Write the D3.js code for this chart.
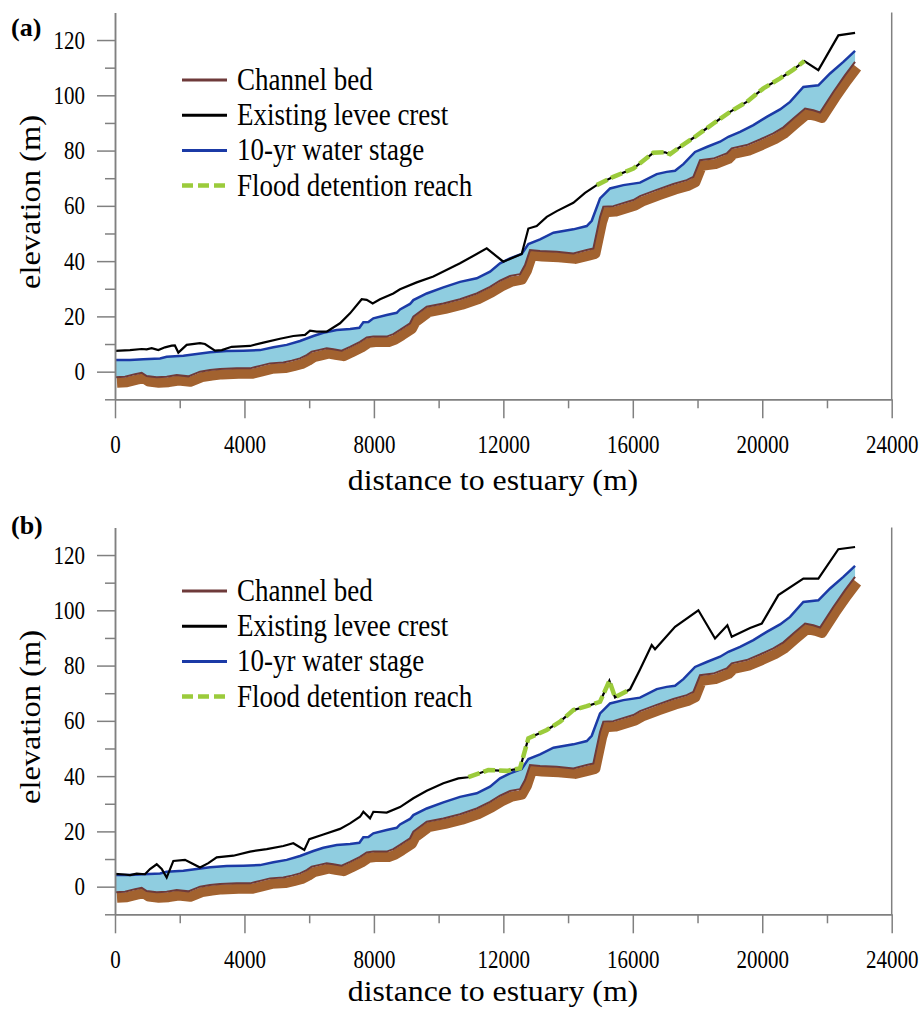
<!DOCTYPE html>
<html>
<head>
<meta charset="utf-8">
<script src="https://cdn.jsdelivr.net/npm/d3@7"></script>
<style>
  html, body { margin: 0; padding: 0; background: #fff; }
  svg { display: block; font-family: 'Liberation Serif', 'Times New Roman', serif; }
</style>
</head>
<body>
<svg id="fig" width="922" height="1009"></svg>
<script>
// Longitudinal profile of the river: distance to estuary (m) vs elevation (m)

// Channel bed
const bedDist = [0, 309, 618, 825, 979, 1288, 1597, 1906, 2265, 2627, 2936, 3245, 3760, 4172, 4481, 4790, 5200, 5460, 5717, 5924, 6078, 6284, 6541, 6750, 7004, 7262, 7571, 7778, 7983, 8395, 8600, 8807, 9116, 9219, 9632, 10146, 10661, 11177, 11588, 11897, 12206, 12515, 12670, 12824, 13134, 13650, 14163, 14577, 14781, 14988, 15090, 15399, 16017, 16223, 16739, 17252, 17667, 17871, 18077, 18490, 18902, 19057, 19521, 19932, 20344, 20653, 20962, 21323, 21580, 21786, 22197, 22559, 22868];
const bedElev = [-2.0, -1.8, -0.9, -0.4, -1.6, -2.0, -1.8, -1.2, -1.7, 0.0, 0.6, 1.0, 1.2, 1.2, 2.1, 3.0, 3.3, 4.0, 4.8, 6.0, 7.2, 7.8, 8.5, 8.1, 7.6, 9.0, 10.8, 12.4, 12.7, 12.7, 13.6, 15.1, 17.5, 19.9, 23.5, 24.7, 26.2, 28.3, 30.7, 32.9, 34.6, 35.3, 38.6, 44.0, 43.7, 43.4, 42.8, 44.0, 44.6, 56.0, 59.7, 59.9, 62.1, 63.5, 65.8, 67.9, 69.3, 70.5, 76.5, 77.1, 79.0, 80.8, 82.0, 84.0, 86.2, 88.4, 91.6, 95.2, 94.6, 93.8, 101.2, 107.3, 112.1];

// 10-yr water stage
const stageDist = [0, 464, 876, 1391, 1597, 2112, 2524, 2936, 3452, 3967, 4481, 4893, 5306, 5717, 6129, 6438, 6851, 7263, 7551, 7674, 7830, 7983, 8395, 8704, 8807, 9116, 9219, 9632, 10146, 10661, 11177, 11588, 11897, 12206, 12567, 12773, 13134, 13547, 14163, 14577, 14731, 14988, 15297, 15709, 16223, 16739, 17048, 17305, 17562, 17923, 18284, 18696, 18953, 19314, 19726, 20138, 20550, 20859, 21270, 21734, 22095, 22506, 22868];
const stageElev = [4.2, 4.2, 4.5, 4.8, 5.4, 5.8, 6.4, 7.0, 7.5, 7.6, 7.8, 8.8, 9.7, 11.1, 12.9, 14.1, 15.1, 15.4, 15.9, 17.9, 18.0, 19.3, 20.5, 21.3, 22.5, 24.5, 25.9, 28.3, 30.5, 32.5, 33.8, 36.2, 39.2, 41.0, 42.6, 46.2, 47.9, 50.3, 51.5, 52.7, 54.6, 62.7, 66.3, 67.5, 68.4, 71.5, 72.3, 72.7, 75.1, 79.5, 81.3, 83.2, 85.0, 86.8, 89.2, 92.2, 94.9, 97.6, 103.0, 103.6, 107.9, 112.1, 116.1];

// Existing levee crest, case (a)
const leveeADist = [0, 464, 825, 979, 1134, 1339, 1545, 1752, 1850, 1957, 2215, 2627, 2780, 3090, 3300, 3606, 4172, 4584, 5099, 5510, 5871, 6026, 6233, 6541, 6953, 7262, 7623, 7778, 7963, 8189, 8600, 8807, 9322, 9837, 10661, 11486, 11999, 12567, 12773, 13031, 13341, 13650, 14163, 14524, 14885, 15399, 16017, 16635, 16996, 17151, 17460, 17923, 18490, 19005, 19521, 20034, 20550, 20962, 21301, 21734, 22352, 22868];
const leveeAElev = [7.5, 7.8, 8.2, 8.1, 8.5, 7.8, 8.8, 9.4, 9.5, 6.9, 9.7, 10.3, 10.0, 7.6, 7.8, 9.0, 9.3, 10.5, 11.9, 12.9, 13.3, 14.8, 14.5, 14.5, 17.5, 21.1, 26.2, 26.0, 24.7, 26.2, 28.3, 29.8, 32.3, 34.4, 39.2, 44.6, 39.8, 42.6, 51.8, 52.7, 56.0, 58.1, 61.1, 64.7, 67.5, 70.5, 73.5, 79.2, 79.4, 78.7, 81.3, 85.0, 89.8, 94.0, 97.6, 102.5, 106.1, 109.3, 112.4, 109.1, 121.7, 122.6];

// Existing levee crest, case (b)
const leveeBDist = [0, 300, 464, 670, 927, 1082, 1288, 1443, 1597, 1803, 2163, 2370, 2627, 2884, 3143, 3657, 4172, 4688, 5201, 5510, 5850, 6004, 6438, 6953, 7262, 7571, 7674, 7880, 7983, 8395, 8807, 9219, 9632, 10146, 10609, 10918, 11536, 12104, 12515, 12773, 12979, 13341, 13752, 14163, 14577, 14988, 15276, 15451, 15915, 16223, 16584, 16687, 17305, 18026, 18541, 18922, 19057, 19623, 19985, 20498, 21270, 21734, 22352, 22868];
const leveeBElev = [4.6, 4.4, 4.2, 4.7, 4.5, 6.4, 8.1, 6.4, 3.3, 9.3, 9.7, 8.5, 6.9, 8.5, 10.6, 11.2, 12.7, 13.6, 14.7, 15.7, 13.3, 17.2, 18.9, 20.9, 22.9, 25.3, 27.1, 24.7, 27.1, 26.8, 28.8, 32.0, 34.7, 37.4, 39.2, 39.6, 42.2, 41.9, 42.8, 53.7, 54.8, 56.7, 59.7, 63.9, 65.3, 66.9, 74.5, 68.5, 71.4, 78.6, 87.4, 85.9, 94.0, 100.0, 89.8, 94.6, 90.4, 93.6, 95.2, 105.5, 111.5, 111.5, 122.1, 122.9];

// Flood detention reaches (start, end distance in m)
const detentionA = [14885, 21301];
const detentionB = [10918, 15915];

// Axis ticks and labels
const xTicksMajor = [0, 4000, 8000, 12000, 16000, 20000, 24000];
const xTicksMinor = [2000, 6000, 10000, 14000, 18000, 22000];
const yTicksMajor = [0, 20, 40, 60, 80, 100, 120];
const yTicksMinor = [-10, 10, 30, 50, 70, 90, 110];
const xTitle = "distance to estuary (m)";
const yTitle = "elevation (m)";
const legendLabels = ["Channel bed", "Existing levee crest", "10-yr water stage", "Flood detention reach"];
const panelLabels = ["(a)", "(b)"];

const COL = {
  bed: "#6e3a3a",
  band: "#a2622f",
  fill: "#8fcde0",
  stage: "#1b3aa6",
  levee: "#000000",
  detention: "#9bcb3b",
  axis: "#808080"
};

const zip = (xs, ys) => xs.map((d, i) => ({ d: d, v: ys[i] }));
const bed = zip(bedDist, bedElev);
const stage = zip(stageDist, stageElev);

const panels = [
  { top: 0, label: panelLabels[0], labelY: 36, titleY: 490, levee: zip(leveeADist, leveeAElev), reach: detentionA, legendY: 80 },
  { top: 515, label: panelLabels[1], labelY: 19, titleY: 486.5, levee: zip(leveeBDist, leveeBElev), reach: detentionB, legendY: 76 }
];

const x = d3.scaleLinear().domain([0, 24000]).range([115, 891.7]);
const y = d3.scaleLinear().domain([-10, 130]).range([399.3, 12.4]);

const line = d3.line().x(p => x(p.d)).y(p => y(p.v));

const svg = d3.select("#fig");

panels.forEach(pn => {
  const g = svg.append("g").attr("transform", `translate(0,${pn.top})`);

  // brown channel-bed band under the bed line
  g.append("path").datum(bed)
    .attr("d", line)
    .attr("fill", "none")
    .attr("stroke", COL.band)
    .attr("stroke-width", 10)
    .attr("stroke-linejoin", "round")
    .attr("transform", "translate(2,5.5)");

  // water between bed and 10-yr stage
  const poly = stage.concat(bed.slice().reverse());
  g.append("path").datum(poly)
    .attr("d", d3.line().x(p => x(p.d)).y(p => y(p.v)).curve(d3.curveLinearClosed))
    .attr("fill", COL.fill)
    .attr("stroke", "none");

  g.append("path").datum(bed)
    .attr("d", line)
    .attr("fill", "none")
    .attr("stroke", COL.bed)
    .attr("stroke-width", 2);

  g.append("path").datum(stage)
    .attr("d", line)
    .attr("fill", "none")
    .attr("stroke", COL.stage)
    .attr("stroke-width", 2.5);

  g.append("path").datum(pn.levee)
    .attr("d", line)
    .attr("fill", "none")
    .attr("stroke", COL.levee)
    .attr("stroke-width", 2.2);

  const reachPts = pn.levee.filter(p => p.d >= pn.reach[0] && p.d <= pn.reach[1]);
  g.append("path").datum(reachPts)
    .attr("d", line)
    .attr("fill", "none")
    .attr("stroke", COL.detention)
    .attr("stroke-width", 4.5)
    .attr("stroke-dasharray", "12,4");

  // axes
  const styleAxis = sel => {
    sel.select(".domain").attr("stroke", COL.axis).attr("stroke-width", 1.5);
    sel.selectAll(".tick line").attr("stroke", COL.axis).attr("stroke-width", 1.5);
  };

  const xAxisG = g.append("g").attr("transform", `translate(0,${y(-10)})`);
  xAxisG.append("g")
    .call(d3.axisBottom(x).tickValues(xTicksMinor).tickSize(9).tickSizeOuter(0).tickFormat(""))
    .call(styleAxis);
  const xMaj = xAxisG.append("g")
    .call(d3.axisBottom(x).tickValues(xTicksMajor).tickSize(19).tickSizeOuter(0).tickFormat(d3.format("d")))
    .call(styleAxis);
  xMaj.selectAll(".tick text")
    .attr("y", null).attr("dy", null)
    .attr("transform", "translate(0,54) scale(1,1.18)")
    .attr("font-family", "'Liberation Serif', 'Times New Roman', serif")
    .attr("font-size", 21)
    .attr("fill", "#000");

  const yAxisG = g.append("g").attr("transform", `translate(${x(0)},0)`);
  yAxisG.append("g")
    .call(d3.axisLeft(y).tickValues(yTicksMinor).tickSize(10).tickSizeOuter(0).tickFormat(""))
    .call(styleAxis);
  const yMaj = yAxisG.append("g")
    .call(d3.axisLeft(y).tickValues(yTicksMajor).tickSize(18).tickSizeOuter(0))
    .call(styleAxis);
  yMaj.selectAll(".tick text")
    .attr("x", null).attr("dy", null)
    .attr("transform", "translate(-30,8) scale(1,1.18)")
    .attr("text-anchor", "end")
    .attr("font-family", "'Liberation Serif', 'Times New Roman', serif")
    .attr("font-size", 21)
    .attr("fill", "#000");

  // right frame line
  g.append("line")
    .attr("x1", x(24000)).attr("x2", x(24000))
    .attr("y1", y(130)).attr("y2", y(-10))
    .attr("stroke", COL.axis).attr("stroke-width", 1.5);

  // axis titles
  g.append("text")
    .attr("x", 493).attr("y", pn.titleY)
    .attr("text-anchor", "middle")
    .attr("font-size", 30)
    .attr("transform", `translate(493,0) scale(1.06,1) translate(-493,0)`)
    .text(xTitle);

  g.append("text")
    .attr("transform", "translate(40,202) rotate(-90) scale(1.12,1)")
    .attr("text-anchor", "middle")
    .attr("font-size", 29)
    .text(yTitle);

  // panel label
  g.append("text")
    .attr("x", 11).attr("y", pn.labelY)
    .attr("font-size", 26)
    .attr("font-weight", "bold")
    .text(pn.label);

  // legend
  const legendStyles = [
    { stroke: COL.bed, w: 3, dash: null },
    { stroke: COL.levee, w: 3, dash: null },
    { stroke: COL.stage, w: 3, dash: null },
    { stroke: COL.detention, w: 4.5, dash: "11,5" }
  ];
  const rowGap = 35.2;
  legendLabels.forEach((lab, i) => {
    const ly = pn.legendY + i * rowGap;
    g.append("line")
      .attr("x1", 182).attr("x2", 227)
      .attr("y1", ly).attr("y2", ly)
      .attr("stroke", legendStyles[i].stroke)
      .attr("stroke-width", legendStyles[i].w)
      .attr("stroke-dasharray", legendStyles[i].dash);
    g.append("text")
      .attr("transform", `translate(237,${ly + 10}) scale(1,1.18)`)
      .attr("font-size", 27)
      .text(lab);
  });
});
</script>
</body>
</html>
